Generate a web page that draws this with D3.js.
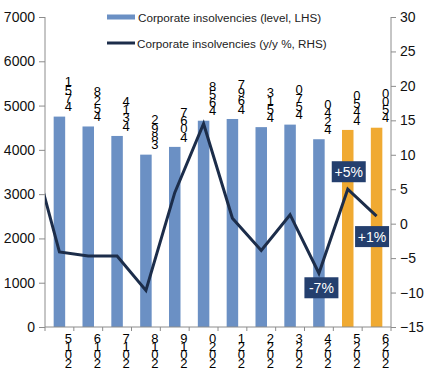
<!DOCTYPE html>
<html><head><meta charset="utf-8">
<script src="https://cdn.jsdelivr.net/npm/d3@7"></script>
<style>body{margin:0;background:#fff}svg{display:block;font-family:"Liberation Sans",Arial,sans-serif}
.vt{writing-mode:vertical-rl;text-orientation:upright;letter-spacing:-6.7px}</style>
</head><body><svg id="c" width="425" height="383"></svg>
<script>
const years = ['2015','2016','2017','2018','2019','2020','2021','2022','2023','2024','2025','2026'];
const levels = [4751,4528,4314,3892,4067,4658,4697,4513,4570,4240,4450,4500];
const forecast = [false,false,false,false,false,false,false,false,false,false,true,true];
const prevYear = '2014';
const prevYoy = 11.5;
const yoy = [-4.1,-4.7,-4.7,-9.7,4.5,14.5,0.8,-3.9,1.3,-7.2,5.0,1.1];
const leftTicks = [0,1000,2000,3000,4000,5000,6000,7000];
const rightTicks = [-15,-10,-5,0,5,10,15,20,25,30];
const callouts = [{year:'2024',text:'-7%',pos:'below'},{year:'2025',text:'+5%',pos:'above'},{year:'2026',text:'+1%',pos:'below'}];

const svg = d3.select('#c');
const L=45, R=391, T=17, B=327;
const x = d3.scaleBand().domain(years).range([L,R]);
const yL = d3.scaleLinear().domain([0,7000]).range([B,T]);
const yR = d3.scaleLinear().domain([-15,30]).range([B,T]);
const axisCol = '#8c8c8c';
const blue = '#6b90c4', orange = '#f0aa32', navy = '#1c2d4a', boxCol = '#243f6e';

// bars
const bw = 11.5;
svg.selectAll('rect.bar').data(years).enter().append('rect')
  .attr('x', d=>x(d)+x.bandwidth()/2-bw/2)
  .attr('y', (d,i)=>yL(levels[i]))
  .attr('width', bw)
  .attr('height', (d,i)=>B-yL(levels[i]))
  .attr('fill', (d,i)=>forecast[i]?orange:blue);

// stacked (bottom-to-top) labels, drawn as one vertical text each
function stacked(g, str, cx, bottom){
  g.append('text').attr('class','vt').attr('text-anchor','end')
    .attr('x',cx).attr('y',bottom).attr('font-size',13).attr('fill','#000')
    .text(str.split('').reverse().join(''));
}
years.forEach((d,i)=>{
  stacked(svg, String(levels[i]), x(d)+x.bandwidth()/2+9, yL(levels[i])-9);
});

// axes
const gL = svg.append('g').attr('transform',`translate(${L},0)`).call(d3.axisLeft(yL).tickValues(leftTicks).tickSize(6).tickPadding(4).tickFormat(d3.format('d')));
const gR = svg.append('g').attr('transform',`translate(${R},0)`).call(d3.axisRight(yR).tickValues(rightTicks).tickSize(5).tickPadding(4).tickFormat(d3.format('d')));
[gL,gR].forEach(g=>{
  g.select('.domain').attr('stroke',axisCol).attr('d',`M0,${T}V${B}`);
  g.selectAll('.tick line').attr('stroke',axisCol);
  g.selectAll('.tick text').attr('font-size',14).attr('fill','#111').attr('font-family','"Liberation Sans",Arial,sans-serif');
});
// bottom axis
svg.append('line').attr('x1',L).attr('x2',R).attr('y1',B).attr('y2',B).attr('stroke',axisCol);
const bounds = years.map(d=>x(d)).concat([R]);
svg.selectAll('line.xt').data(bounds).enter().append('line')
  .attr('x1',d=>d).attr('x2',d=>d).attr('y1',B).attr('y2',B+4).attr('stroke',axisCol);
years.forEach(d=>{
  stacked(svg, d, x(d)+x.bandwidth()/2+9, 364);
});

// line (clipped to plot)
svg.append('clipPath').attr('id','clip').append('rect').attr('x',L).attr('y',0).attr('width',R-L).attr('height',383);
const pts = [{c:prevYear,v:prevYoy}].concat(years.map((d,i)=>({c:d,v:yoy[i]})));
const step2 = x.step();
const xc = c => c===prevYear ? x(years[0])+x.bandwidth()/2-step2 : x(c)+x.bandwidth()/2;
svg.append('path').attr('clip-path','url(#clip)')
  .attr('d', d3.line().x(p=>xc(p.c)).y(p=>yR(p.v))(pts))
  .attr('fill','none').attr('stroke',navy).attr('stroke-width',3).attr('stroke-linejoin','miter');

// callouts
callouts.forEach(co=>{
  const i = years.indexOf(co.year);
  const cx = xc(co.year), cy = yR(yoy[i]);
  const w=34, h=21;
  const off = {'2024':2.5,'2025':1,'2026':-4.5}[co.year];
  const by = co.pos==='above' ? cy-7-h : cy+(co.year==='2024'?4:10);
  svg.append('rect').attr('x',cx+off-w/2).attr('y',by).attr('width',w).attr('height',h).attr('fill',boxCol);
  svg.append('text').attr('x',cx+off).attr('y',by+h/2+5).attr('text-anchor','middle')
    .attr('font-size',14).attr('fill','#fff').text(co.text);
});

// legend
const lg = svg.append('g');
lg.append('rect').attr('x',107).attr('y',14.5).attr('width',28).attr('height',5).attr('fill',blue);
lg.append('text').attr('x',138).attr('y',21.5).attr('font-size',11.7).attr('fill','#222').text('Corporate insolvencies (level, LHS)');
lg.append('line').attr('x1',107).attr('x2',135).attr('y1',43).attr('y2',43).attr('stroke',navy).attr('stroke-width',3);
lg.append('text').attr('x',137).attr('y',47.5).attr('font-size',11.7).attr('fill','#222').text('Corporate insolvencies (y/y %, RHS)');
</script></body></html>
